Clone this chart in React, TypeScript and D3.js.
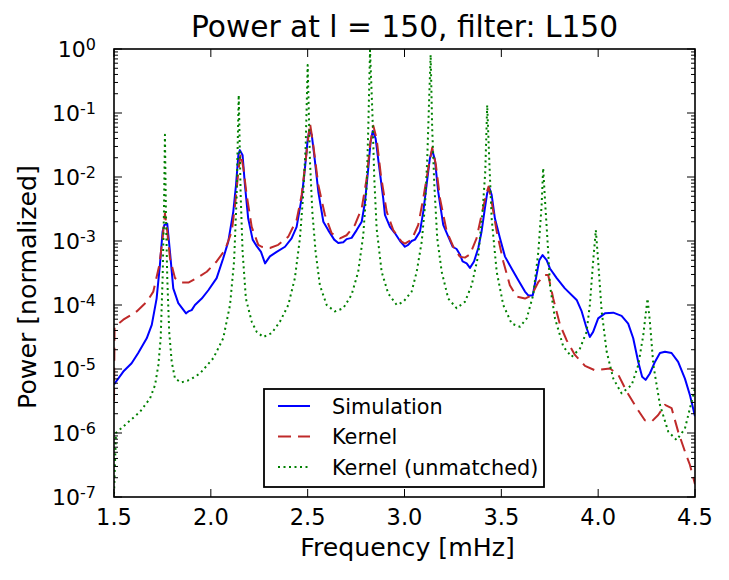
import React from 'react';
import * as d3 from 'd3';

const titleText = 'Power at l = 150, filter: L150';
const xLabel = 'Frequency [mHz]';
const yLabel = 'Power [normalized]';
const xTicks = [1.5, 2.0, 2.5, 3.0, 3.5, 4.0, 4.5];
const yExponents = [-7, -6, -5, -4, -3, -2, -1, 0];
const legendLabels = ['Simulation', 'Kernel', 'Kernel (unmatched)'];

const simulation: [number, number][] = [
  [1.5,5.75e-6],[1.548,9.12e-6],[1.591,1.23e-5],[1.625,1.78e-5],[1.669,3.02e-5],[1.695,4.9e-5],[1.72,1.26e-4],[1.737,4.2e-4],[1.751,1.41e-3],[1.76,1.78e-3],[1.775,1.86e-3],[1.789,6.76e-4],[1.806,1.82e-4],[1.832,1.07e-4],[1.872,7.41e-5],[1.884,7.94e-5],[1.901,8.32e-5],[1.918,1.0e-4],[1.953,1.26e-4],[1.987,1.7e-4],[2.03,2.63e-4],[2.064,5.37e-4],[2.09,9.77e-4],[2.116,2.88e-3],[2.13,7.5e-3],[2.142,2.19e-2],[2.15,2.63e-2],[2.164,2.19e-2],[2.176,7.5e-3],[2.193,2.24e-3],[2.216,1.05e-3],[2.237,8.32e-4],[2.259,6.76e-4],[2.28,4.47e-4],[2.305,5.75e-4],[2.34,6.76e-4],[2.383,8.13e-4],[2.417,1.1e-3],[2.443,1.66e-3],[2.469,4.68e-3],[2.486,1.38e-2],[2.5,3.8e-2],[2.508,5.25e-2],[2.521,4.57e-2],[2.534,2.19e-2],[2.555,5.89e-3],[2.581,2.0e-3],[2.606,1.48e-3],[2.637,1.05e-3],[2.658,9.33e-4],[2.684,9.55e-4],[2.701,1.07e-3],[2.727,1.12e-3],[2.753,1.48e-3],[2.779,2.0e-3],[2.796,4.07e-3],[2.813,1.38e-2],[2.825,3.55e-2],[2.836,5.25e-2],[2.851,3.98e-2],[2.868,1.55e-2],[2.89,4.68e-3],[2.899,2.57e-3],[2.925,1.66e-3],[2.951,1.32e-3],[2.977,1.0e-3],[2.994,8.71e-4],[3.002,8.13e-4],[3.019,8.71e-4],[3.037,1.0e-3],[3.054,1.05e-3],[3.08,1.41e-3],[3.097,2.88e-3],[3.114,7.5e-3],[3.131,1.95e-2],[3.143,2.63e-2],[3.157,1.86e-2],[3.174,5.89e-3],[3.2,1.78e-3],[3.226,1.17e-3],[3.249,8.13e-4],[3.269,7.5e-4],[3.286,6.17e-4],[3.3,4.79e-4],[3.321,4.47e-4],[3.338,3.8e-4],[3.359,4.79e-4],[3.381,7.76e-4],[3.398,1.41e-3],[3.415,3.24e-3],[3.427,5.62e-3],[3.438,6.76e-3],[3.45,5.25e-3],[3.467,2.24e-3],[3.493,1.1e-3],[3.519,5.7e-4],[3.553,3.72e-4],[3.587,2.45e-4],[3.622,1.62e-4],[3.639,1.41e-4],[3.662,1.41e-4],[3.679,2.63e-4],[3.696,5.01e-4],[3.713,6.03e-4],[3.734,5.01e-4],[3.751,3.72e-4],[3.786,2.63e-4],[3.828,1.82e-4],[3.889,1.2e-4],[3.915,7.94e-5],[3.94,4.37e-5],[3.957,3.16e-5],[3.974,3.8e-5],[4.0,6.17e-5],[4.035,7.41e-5],[4.078,7.59e-5],[4.121,6.76e-5],[4.155,5.13e-5],[4.181,3.02e-5],[4.207,1.29e-5],[4.227,7.59e-6],[4.245,6.76e-6],[4.267,8.51e-6],[4.293,1.29e-5],[4.319,1.78e-5],[4.345,1.86e-5],[4.379,1.78e-5],[4.413,1.29e-5],[4.448,7.08e-6],[4.474,3.89e-6],[4.5,1.82e-6]
];

const kernel: [number, number][] = [
  [1.5,3.2e-6],[1.503,4.57e-5],[1.548,5.89e-5],[1.617,7.94e-5],[1.669,1.12e-4],[1.703,1.62e-4],[1.734,4.2e-4],[1.751,1.1e-3],[1.763,2.69e-3],[1.775,1.41e-3],[1.789,5.37e-4],[1.815,2.63e-4],[1.85,2.24e-4],[1.884,2.24e-4],[1.927,2.63e-4],[1.979,3.31e-4],[2.03,4.79e-4],[2.073,7.24e-4],[2.108,1.41e-3],[2.125,3.63e-3],[2.142,1.2e-2],[2.154,2.34e-2],[2.168,1.38e-2],[2.185,5.25e-3],[2.211,1.66e-3],[2.245,8.71e-4],[2.262,8.13e-4],[2.305,7.76e-4],[2.348,8.71e-4],[2.4,1.17e-3],[2.443,2.14e-3],[2.469,5.25e-3],[2.495,2.51e-2],[2.512,6.92e-2],[2.529,3.16e-2],[2.555,7.5e-3],[2.589,2.57e-3],[2.624,1.32e-3],[2.667,1.1e-3],[2.701,1.23e-3],[2.744,1.78e-3],[2.779,3.24e-3],[2.805,9.55e-3],[2.822,3.16e-2],[2.839,6.31e-2],[2.856,3.98e-2],[2.878,1.07e-2],[2.908,2.88e-3],[2.942,1.48e-3],[2.985,9.77e-4],[3.002,9.12e-4],[3.037,1.05e-3],[3.071,1.78e-3],[3.097,4.68e-3],[3.123,1.38e-2],[3.143,2.88e-2],[3.162,1.55e-2],[3.183,4.68e-3],[3.218,1.41e-3],[3.252,8.13e-4],[3.286,5.7e-4],[3.312,5.5e-4],[3.338,6.17e-4],[3.372,1.1e-3],[3.398,2.57e-3],[3.421,5.25e-3],[3.434,7.08e-3],[3.45,4.07e-3],[3.476,1.41e-3],[3.51,4.79e-4],[3.544,2.04e-4],[3.579,1.35e-4],[3.622,1.26e-4],[3.656,1.41e-4],[3.691,2.29e-4],[3.725,2.95e-4],[3.742,2.95e-4],[3.768,1.26e-4],[3.803,4.9e-5],[3.837,2.82e-5],[3.88,1.66e-5],[3.932,1.12e-5],[3.983,9.55e-6],[4.061,1.02e-5],[4.104,8.13e-6],[4.147,4.47e-6],[4.199,2.45e-6],[4.241,1.58e-6],[4.276,1.51e-6],[4.31,1.91e-6],[4.345,2.75e-6],[4.379,2.45e-6],[4.413,1.05e-6],[4.448,5.13e-7],[4.474,3.16e-7],[4.5,1.58e-7]
];

const kernelUnmatched: [number, number][] = [
  [1.5,1.12e-7],[1.51,1.0e-6],[1.566,1.41e-6],[1.634,2.14e-6],[1.686,3.47e-6],[1.712,5.62e-6],[1.729,1.15e-5],[1.741,3.02e-5],[1.751,2.63e-4],[1.758,2.88e-3],[1.763,4.57e-2],[1.768,2.88e-3],[1.775,2.63e-4],[1.785,3.8e-5],[1.798,1.29e-5],[1.815,7.08e-6],[1.846,6.17e-6],[1.892,6.76e-6],[1.944,8.51e-6],[2.013,1.48e-5],[2.064,3.02e-5],[2.099,1.0e-4],[2.12,4.79e-4],[2.133,4.68e-3],[2.144,0.191],[2.154,5.25e-3],[2.164,6.76e-4],[2.181,1.26e-4],[2.211,5.5e-5],[2.237,3.8e-5],[2.271,3.16e-5],[2.314,3.63e-5],[2.357,5.5e-5],[2.4,1.0e-4],[2.434,2.63e-4],[2.46,1.1e-3],[2.477,5.25e-3],[2.49,3.16e-2],[2.5,0.562],[2.512,1.74e-2],[2.524,2.88e-3],[2.541,6.76e-4],[2.563,2.04e-4],[2.598,1.0e-4],[2.641,7.94e-5],[2.684,8.91e-5],[2.727,1.45e-4],[2.761,3.31e-4],[2.787,1.23e-3],[2.805,7.5e-3],[2.813,5.75e-2],[2.822,0.955],[2.834,0.105],[2.844,9.55e-3],[2.856,1.58e-3],[2.882,3.31e-4],[2.916,1.51e-4],[2.96,1.0e-4],[2.994,1.12e-4],[3.037,1.62e-4],[3.063,3.31e-4],[3.089,9.77e-4],[3.106,3.63e-3],[3.117,1.74e-2],[3.128,0.191],[3.135,0.813],[3.143,5.75e-2],[3.154,7.5e-3],[3.169,1.1e-3],[3.192,3.31e-4],[3.226,1.26e-4],[3.269,8.91e-5],[3.312,1.12e-4],[3.347,2.04e-4],[3.381,6.03e-4],[3.403,2.88e-3],[3.417,1.2e-2],[3.427,0.133],[3.438,1.74e-2],[3.45,2.24e-3],[3.476,3.31e-4],[3.51,1.0e-4],[3.553,5.13e-5],[3.596,4.57e-5],[3.631,6.17e-5],[3.665,1.45e-4],[3.691,6.76e-4],[3.708,3.63e-3],[3.716,1.38e-2],[3.727,3.63e-3],[3.742,6.76e-4],[3.751,2.04e-4],[3.777,6.17e-5],[3.82,2.24e-5],[3.863,1.55e-5],[3.906,2.09e-5],[3.94,3.8e-5],[3.957,1.0e-4],[3.974,4.79e-4],[3.988,1.48e-3],[4.0,4.79e-4],[4.018,7.94e-5],[4.044,1.86e-5],[4.078,7.08e-6],[4.121,4.17e-6],[4.173,5.62e-6],[4.207,1.15e-5],[4.233,3.39e-5],[4.247,7.94e-5],[4.255,1.26e-4],[4.267,5.5e-5],[4.285,1.15e-5],[4.319,2.75e-6],[4.362,1.05e-6],[4.405,7.76e-7],[4.448,1.17e-6],[4.474,2.45e-6],[4.5,5.0e-6]
];

const W = 729;
const H = 580;
const L = 114, R = 695, T = 49, B = 497;
const FONT = '"DejaVu Sans", sans-serif';

export default function App() {
  const x = d3.scaleLinear().domain([1.5, 4.5]).range([L, R]);
  const y = d3.scaleLog().domain([1e-7, 1]).range([B, T]);
  const line = d3.line<[number, number]>().x(d => x(d[0])).y(d => y(d[1]));

  const minor: number[] = [];
  yExponents.slice(0, -1).forEach(e => {
    for (let m = 2; m <= 9; m++) minor.push(m * Math.pow(10, e));
  });

  const series = [
    { data: simulation, color: '#0000ff', dash: undefined as string | undefined, width: 2 },
    { data: kernel, color: '#bf2a2a', dash: '13,7', width: 2 },
    { data: kernelUnmatched, color: '#008000', dash: '2,3.5', width: 2 },
  ];

  const legX = 264, legY = 389, legW = 280, legH = 98;
  const rowBase = [413.5, 444, 474.5];

  return (
    <svg width={W} height={H} style={{ position: 'absolute', left: 0, top: 0, background: '#fff' }} fontFamily={FONT}>
      <rect x={0} y={0} width={W} height={H} fill="#fff" />
      <defs>
        <clipPath id="plotclip">
          <rect x={L} y={T} width={R - L} height={B - T} />
        </clipPath>
      </defs>
      <g clipPath="url(#plotclip)">
        {series.map((s, i) => (
          <path key={i} d={line(s.data) || ''} fill="none" stroke={s.color} strokeWidth={s.width}
            strokeDasharray={s.dash} strokeLinejoin="round" />
        ))}
      </g>
      {minor.map((v, i) => (
        <g key={'m' + i} stroke="#000" strokeWidth={1}>
          <line x1={L} x2={L + 4} y1={y(v)} y2={y(v)} />
          <line x1={R} x2={R - 4} y1={y(v)} y2={y(v)} />
        </g>
      ))}
      {yExponents.map(e => {
        const yy = y(Math.pow(10, e));
        return (
          <g key={'y' + e}>
            <line x1={L} x2={L + 8} y1={yy} y2={yy} stroke="#000" strokeWidth={1} />
            <line x1={R} x2={R - 8} y1={yy} y2={yy} stroke="#000" strokeWidth={1} />
            <text x={96} y={yy + 8} textAnchor="end" fontSize={22} fill="#000">
              <tspan>10</tspan>
              <tspan fontSize={16} dy={-7}>{e === 0 ? '0' : '-' + Math.abs(e)}</tspan>
            </text>
          </g>
        );
      })}
      {xTicks.map(t => (
        <g key={'x' + t}>
          <line x1={x(t)} x2={x(t)} y1={B} y2={B - 8} stroke="#000" strokeWidth={1} />
          <line x1={x(t)} x2={x(t)} y1={T} y2={T + 8} stroke="#000" strokeWidth={1} />
          <text x={x(t)} y={525} textAnchor="middle" fontSize={22.5} fill="#000">{t.toFixed(1)}</text>
        </g>
      ))}
      <rect x={L} y={T} width={R - L} height={B - T} fill="none" stroke="#000" strokeWidth={1.6} />
      <rect x={legX} y={legY} width={legW} height={legH} fill="#fff" stroke="#000" strokeWidth={1.8} />
      {legendLabels.map((lab, i) => (
        <g key={'l' + i}>
          <line x1={278} x2={310} y1={rowBase[i] - 7.5} y2={rowBase[i] - 7.5} stroke={series[i].color}
            strokeWidth={2} strokeDasharray={series[i].dash} />
          <text x={332} y={rowBase[i]} fontSize={20.8} fill="#000">{lab}</text>
        </g>
      ))}
      <text x={(L + R) / 2} y={37} textAnchor="middle" fontSize={29.7} fill="#000">{titleText}</text>
      <text x={(L + R) / 2 + 3} y={556} textAnchor="middle" fontSize={25.2} fill="#000">{xLabel}</text>
      <text transform={`translate(36,${(T + B) / 2 + 14}) rotate(-90)`} textAnchor="middle" fontSize={25.2} fill="#000">{yLabel}</text>
    </svg>
  );
}
